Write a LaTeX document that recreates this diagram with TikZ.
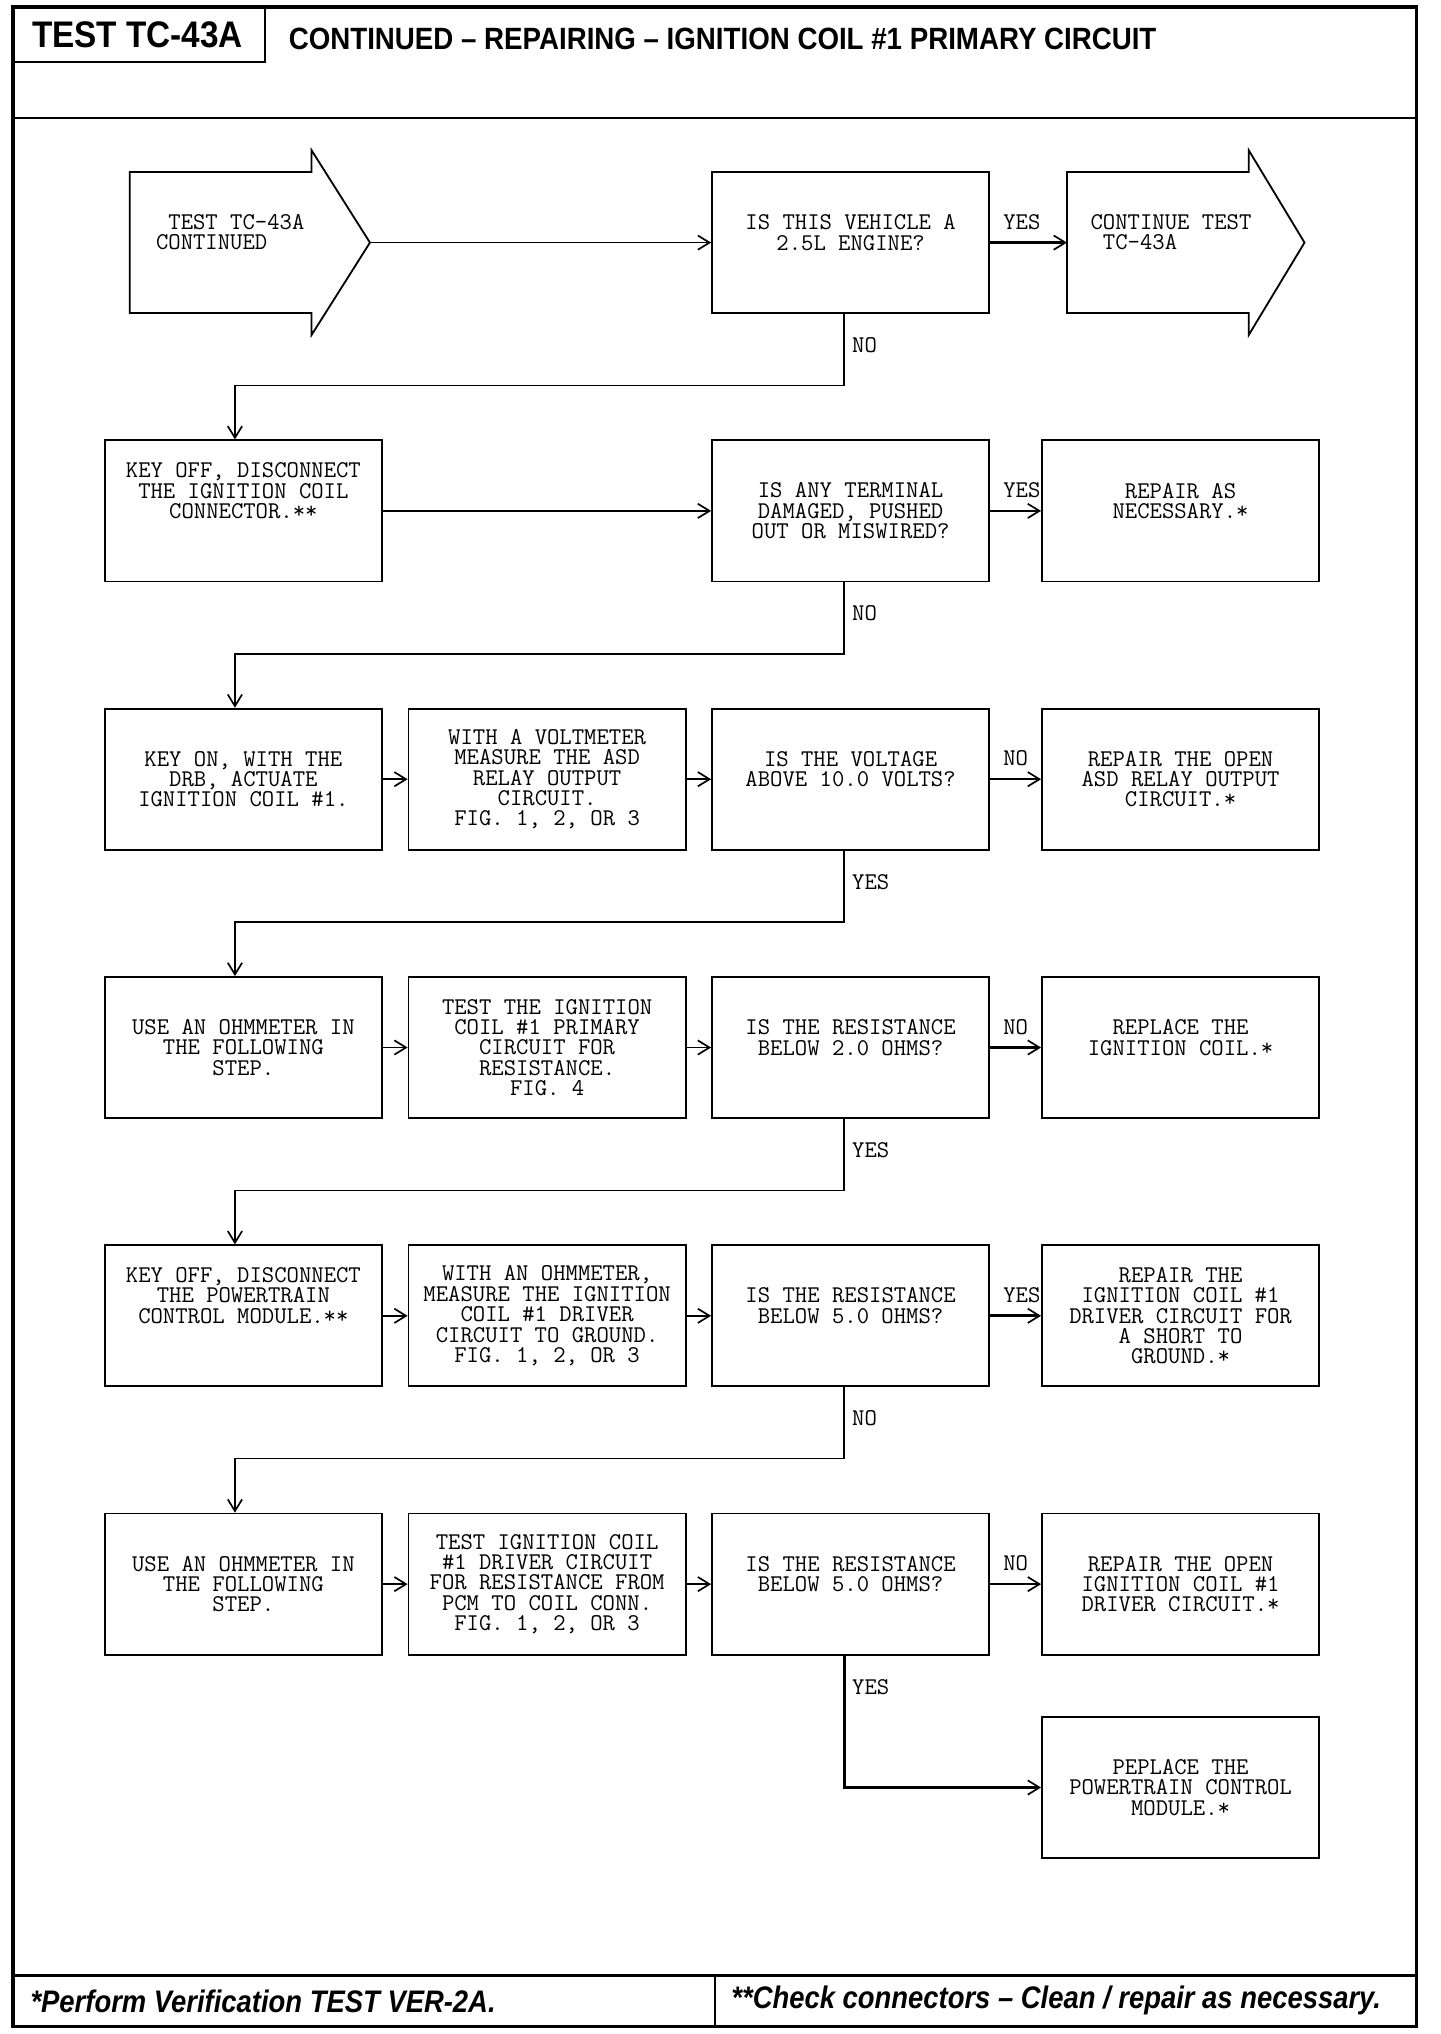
\documentclass[tikz,border=0pt]{standalone}
\usepackage{fontspec}
\usepackage{tikz}
\usetikzlibrary{calc,arrows.meta}
\newfontfamily\headfont[FakeStretch=0.9]{Liberation Sans}
\newfontfamily\notefont[FakeStretch=0.88]{Liberation Sans}
\newcommand{\boxfont}{\ttfamily\fontsize{18.5}{15.7}\selectfont}

\tikzset{
  box/.style={draw, line width=1.4pt, minimum width=213.5pt, minimum height=108.7pt,
    inner sep=0pt, align=center, font=\boxfont},
  lbl/.style={font=\boxfont, inner sep=1pt},
  conn/.style={line width=1.2pt, -{Straight Barb[length=9pt,width=11pt,line width=1.3pt]}},
  connthick/.style={conn, line width=2.2pt},
  frame/.style={line width=2.5pt}
}

\begin{document}
\begin{tikzpicture}[x=1pt,y=-1pt]
    \useasboundingbox (0,0) rectangle (1109.4,1567);
    % frame
    \draw[frame] (10,5.4) rectangle (1091,1561);
    \draw[line width=2.2pt] (10,90.9) -- (1091,90.9);
    \draw[line width=2.2pt] (10,1521.6) -- (1091,1521.6);
    \draw[line width=1.6pt] (551,1521.6) -- (551,1561);
    \draw[line width=1.6pt] (10,47.5) -- (204,47.5) -- (204,5.4);
    \node[font=\headfont\bfseries\fontsize{28.5}{28.5}\selectfont] (testno) at (106,27) {TEST TC-43A};
    \node[anchor=west, font=\headfont\bfseries\fontsize{23.7}{23.7}\selectfont] (title) at (219,30)
        {CONTINUED – REPAIRING – IGNITION COIL \#1 PRIMARY CIRCUIT};

    % row 1
    \draw[line width=1.4pt] (100,132.5) -- (240,132.5) -- (240,115.7) -- (285,186.9)
        -- (240,258.1) -- (240,241.2) -- (100,241.2) -- cycle;
    \coordinate (starttip) at (285,186.9);
    \node[lbl, anchor=west, align=left] (start) at (119,178.9) {~TEST TC-43A\\CONTINUED};
    \node[box] (q1) at (655.3,186.9) {IS THIS VEHICLE A\\2.5L ENGINE?\\~};
    \draw[line width=1.4pt] (822,132.5) -- (962,132.5) -- (962,115.7) -- (1005,186.9)
        -- (962,258.1) -- (962,241.2) -- (822,241.2) -- cycle;
    \coordinate (endbody) at (822,186.9);
    \node[lbl, anchor=west, align=left] (cont) at (839,178.9) {CONTINUE TEST\\~TC-43A};
    \draw[conn] (starttip) -- (q1.west);
    \draw[connthick] (q1.east) -- (endbody);
    \node[lbl, anchor=west] at ([xshift=9pt,yshift=16pt]q1.east) {YES};

    % row 2
    \node[box] (a2) at (187.5,393.6) {KEY OFF, DISCONNECT\\THE IGNITION COIL\\CONNECTOR.**\\~\\~};
    \node[box] (q2) at (655.3,393.6) {IS ANY TERMINAL\\DAMAGED, PUSHED\\OUT OR MISWIRED?};
    \node[box] (r2) at (909.5,393.6) {REPAIR AS\\NECESSARY.*\\~};
    \draw[conn] (a2.east) -- (q2.west);
    \draw[conn] (q2.east) -- (r2.west);
    \node[lbl, anchor=west] at ([xshift=9pt,yshift=16pt]q2.east) {YES};

    % row 3
    \node[box] (a3) at (187.5,600.3) {KEY ON, WITH THE\\DRB, ACTUATE\\IGNITION COIL \#1.};
    \node[box] (b3) at (421.5,600.3) {WITH A VOLTMETER\\MEASURE THE ASD\\RELAY OUTPUT\\CIRCUIT.\\FIG. 1, 2, OR 3};
    \node[box] (q3) at (655.3,600.3) {IS THE VOLTAGE\\ABOVE 10.0 VOLTS?\\~};
    \node[box] (r3) at (909.5,600.3) {REPAIR THE OPEN\\ASD RELAY OUTPUT\\CIRCUIT.*};

    % row 4
    \node[box] (a4) at (187.5,807) {USE AN OHMMETER IN\\THE FOLLOWING\\STEP.};
    \node[box] (b4) at (421.5,807) {TEST THE IGNITION\\COIL \#1 PRIMARY\\CIRCUIT FOR\\RESISTANCE.\\FIG. 4};
    \node[box] (q4) at (655.3,807) {IS THE RESISTANCE\\BELOW 2.0 OHMS?\\~};
    \node[box] (r4) at (909.5,807) {REPLACE THE\\IGNITION COIL.*\\~};

    % row 5
    \node[box] (a5) at (187.5,1013.7) {KEY OFF, DISCONNECT\\THE POWERTRAIN\\CONTROL MODULE.**\\~\\~};
    \node[box] (b5) at (421.5,1013.7) {WITH AN OHMMETER,\\MEASURE THE IGNITION\\COIL \#1 DRIVER\\CIRCUIT TO GROUND.\\FIG. 1, 2, OR 3};
    \node[box] (q5) at (655.3,1013.7) {IS THE RESISTANCE\\BELOW 5.0 OHMS?\\~};
    \node[box] (r5) at (909.5,1013.7) {REPAIR THE\\IGNITION COIL \#1\\DRIVER CIRCUIT FOR\\A SHORT TO\\GROUND.*};

    % row 6
    \node[box] (a6) at (187.5,1220.4) {USE AN OHMMETER IN\\THE FOLLOWING\\STEP.};
    \node[box] (b6) at (421.5,1220.4) {TEST IGNITION COIL\\\#1 DRIVER CIRCUIT\\FOR RESISTANCE FROM\\PCM TO COIL CONN.\\FIG. 1, 2, OR 3};
    \node[box] (q6) at (655.3,1220.4) {IS THE RESISTANCE\\BELOW 5.0 OHMS?\\~};
    \node[box] (r6) at (909.5,1220.4) {REPAIR THE OPEN\\IGNITION COIL \#1\\DRIVER CIRCUIT.*};

    \node[box] (r7) at (909.5,1377.1) {PEPLACE THE\\POWERTRAIN CONTROL\\MODULE.*};

    % across the rows
    \foreach \r/\l/\s in {3/NO/conn, 4/NO/connthick, 5/YES/connthick, 6/NO/conn} {
        \draw[conn] (a\r.east) -- (b\r.west);
        \draw[conn] (b\r.east) -- (q\r.west);
        \draw[\s] (q\r.east) -- (r\r.west);
        \node[lbl, anchor=west] at ([xshift=9pt,yshift=16pt]q\r.east) {\l};
    }

    % down to the next row
    \foreach \r/\n/\l in {1/2/NO, 2/3/NO, 3/4/YES, 4/5/YES, 5/6/NO} {
        \draw[conn] ([xshift=-5pt]q\r.south) -- ([xshift=-5pt,yshift=-55pt]q\r.south)
            -| ([xshift=-6.5pt]a\n.north);
        \node[lbl, anchor=west] at ([yshift=-24pt]q\r.south) {\l};
    }
    \draw[connthick] ([xshift=-5pt]q6.south) |- (r7.west);
    \node[lbl, anchor=west] at ([yshift=-24pt]q6.south) {YES};

    % footer
    \node[anchor=west, font=\notefont\bfseries\itshape\fontsize{24}{24}\selectfont] (note1)
        at (20,1541.5) {*Perform Verification TEST VER-2A.};
    \node[anchor=west, font=\notefont\bfseries\itshape\fontsize{24}{24}\selectfont] (note2)
        at (560,1541.5) {**Check connectors – Clean / repair as necessary.};
\end{tikzpicture}
\end{document}
